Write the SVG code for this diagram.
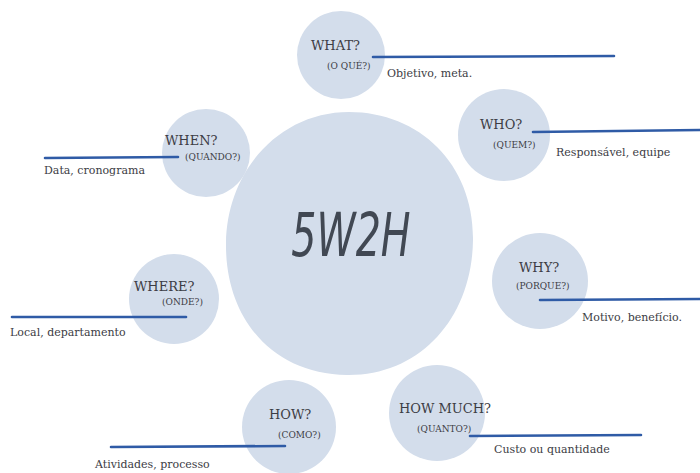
<svg xmlns="http://www.w3.org/2000/svg" width="700" height="473" viewBox="0 0 700 473">
<style>
.bub{fill:#d3ddeb}
.t{font-family:'DejaVu Serif',serif;fill:#3c3c44}
.q{font-size:13px}
.s{font-size:9px}
.d{font-size:11px}
.ln{stroke:#2f5ba6;stroke-width:2.6;stroke-linecap:round;fill:none}
.big{font-family:'DejaVu Sans Condensed','Liberation Sans Narrow',sans-serif;font-style:italic;font-size:50px;fill:#414853}
</style>
<rect width="700" height="473" fill="#ffffff"/>
<g id="center">
<path class="bub" d="M349 112 C420 112 474 165 473 240 C472 318 420 376 347 375 C272 374 225 318 226 243 C227 170 280 112 349 112 Z"/>
<text class="big" x="351" y="256" text-anchor="middle" transform="translate(351 256) scale(0.88 1.2) translate(-351 -256)">5W2H</text>
</g>
<g id="what">
<circle class="bub" cx="341" cy="55" r="44"/>
<text class="t q" x="311" y="50">WHAT?</text>
<text class="t s" x="327" y="69">(O QUÉ?)</text>
<text class="t d" x="387" y="77">Objetivo, meta.</text>
</g>
<g id="who">
<circle class="bub" cx="504" cy="135" r="46"/>
<text class="t q" x="480" y="129">WHO?</text>
<text class="t s" x="493" y="148">(QUEM?)</text>
<text class="t d" x="556" y="156">Responsável, equipe</text>
</g>
<g id="when">
<circle class="bub" cx="206" cy="153" r="44"/>
<text class="t q" x="165" y="145">WHEN?</text>
<text class="t s" x="185" y="160">(QUANDO?)</text>
<text class="t d" x="44" y="174">Data, cronograma</text>
</g>
<g id="why">
<circle class="bub" cx="540" cy="281" r="48"/>
<text class="t q" x="519" y="272">WHY?</text>
<text class="t s" x="516" y="289">(PORQUE?)</text>
<text class="t d" x="582" y="321">Motivo, benefício.</text>
</g>
<g id="where">
<circle class="bub" cx="174" cy="299" r="45"/>
<text class="t q" x="134" y="291">WHERE?</text>
<text class="t s" x="162" y="305">(ONDE?)</text>
<text class="t d" x="10" y="336">Local, departamento</text>
</g>
<g id="how">
<circle class="bub" cx="289" cy="427" r="47"/>
<text class="t q" x="269" y="419">HOW?</text>
<text class="t s" x="278" y="438">(COMO?)</text>
<text class="t d" x="95" y="468">Atividades, processo</text>
</g>
<g id="howmuch">
<circle class="bub" cx="437" cy="413" r="48"/>
<text class="t q" x="399" y="413">HOW MUCH?</text>
<text class="t s" x="417" y="432">(QUANTO?)</text>
<text class="t d" x="494" y="453">Custo ou quantidade</text>
</g>
<g id="connectors">
<path class="ln" d="M373 57 L614 56"/>
<path class="ln" d="M533 132 L700 130"/>
<path class="ln" d="M45 158 L178 157"/>
<path class="ln" d="M540 300 L700 299"/>
<path class="ln" d="M12 317 L186 317"/>
<path class="ln" d="M111 447 L285 446"/>
<path class="ln" d="M470 436 L641 435"/>
</g>
</svg>
